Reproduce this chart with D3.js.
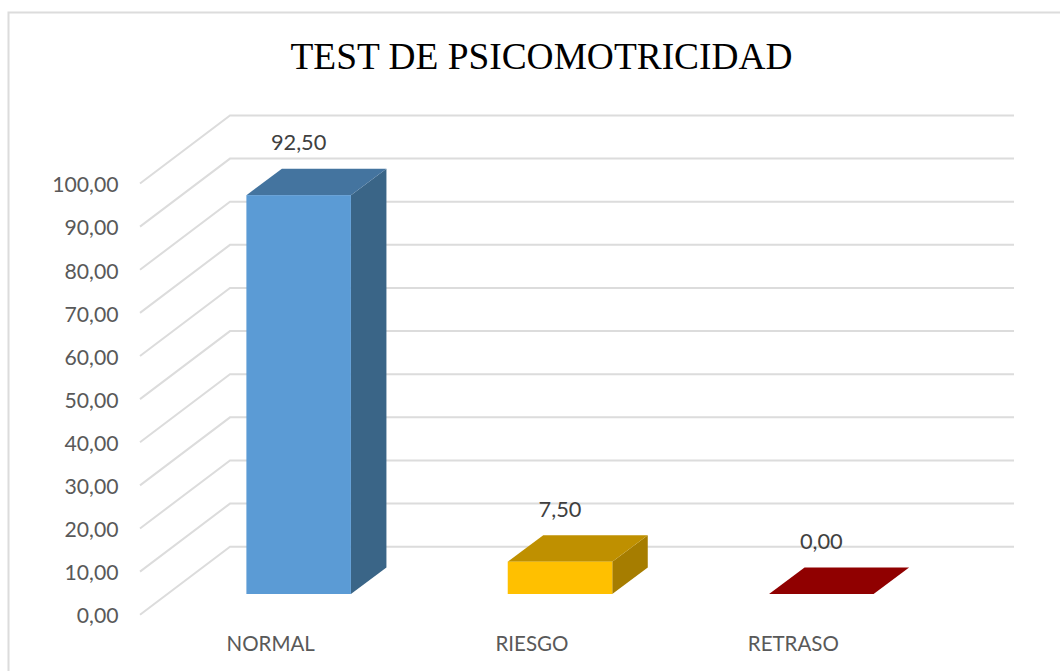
<!DOCTYPE html>
<meta charset="utf-8">
<style>
  html, body { margin: 0; padding: 0; background: #fff; }
</style>

<!-- Load d3.js -->
<script src="https://d3js.org/d3.v7.min.js"></script>

<!-- Create a div where the graph will take place -->
<div id="my_dataviz"></div>

<script>

// data
const chartTitle = "TEST DE PSICOMOTRICIDAD";
const categories = ["NORMAL", "RIESGO", "RETRASO"];
const values = [92.5, 7.5, 0];
const yTicks = [0, 10, 20, 30, 40, 50, 60, 70, 80, 90, 100];
const frontColors = ["#5b9bd5", "#ffc000", "#900000"];
const topColors = ["#44749f", "#bf9000", "#900000"];
const sideColors = ["#3a6587", "#a67d00", "#900000"];

const width = 1060, height = 671;

// front plane of the plot, and how far the 3d floor goes back
const plot = {left: 140, right: 924, top: 183.5, bottom: 614.7};
const depth = {x: 90, y: -68};
const barShift = {x: 28, y: -20.7};   // bars stand in the middle of the floor
const barDepth = {x: 35.5, y: -26.4};

const svg = d3.select("#my_dataviz")
  .append("svg")
    .attr("width", width)
    .attr("height", height)
    .style("display", "block");

// chart frame, runs off the picture on the right and at the bottom
svg.append("path")
  .attr("d", "M8.5," + height + "V12.5H" + width)
  .attr("fill", "none")
  .attr("stroke", "#dcdcdc")
  .attr("stroke-width", 2);

svg.append("text")
  .attr("x", 541.5)
  .attr("y", 69)
  .attr("text-anchor", "middle")
  .style("font-family", "'Liberation Serif', serif")
  .style("font-size", "37.4px")
  .attr("fill", "#000")
  .text(chartTitle);

const x = d3.scaleBand()
  .domain(categories)
  .range([plot.left, plot.right])
  .paddingInner(0.6)
  .paddingOuter(0.3);

const y = d3.scaleLinear()
  .domain([0, 100])
  .range([plot.bottom, plot.top]);

// gridlines: slanted part on the side wall, then flat along the back wall
svg.append("g")
  .selectAll("path")
  .data(yTicks)
  .join("path")
    .attr("d", d => "M" + plot.left + "," + y(d)
      + "L" + (plot.left + depth.x) + "," + (y(d) + depth.y)
      + "H" + (plot.right + depth.x))
    .attr("fill", "none")
    .attr("stroke", "#dcdcdc")
    .attr("stroke-width", 2);

// Y axis, only the labels show
const yAxis = svg.append("g")
  .attr("transform", "translate(118.5,1.5)")
  .call(d3.axisLeft(y)
    .tickValues(yTicks)
    .tickSize(0)
    .tickPadding(0)
    .tickFormat(d => d3.format(".2f")(d).replace(".", ",")));
yAxis.select(".domain").remove();
yAxis.selectAll("text")
  .style("font-family", "Lato, sans-serif")
  .style("font-size", "21.2px")
  .attr("fill", "#595959");

// X axis labels
const xAxis = svg.append("g")
  .attr("transform", "translate(0,633)")
  .call(d3.axisBottom(x).tickSize(0).tickPadding(0));
xAxis.select(".domain").remove();
xAxis.selectAll("text")
  .attr("dy", "0.9em")
  .style("font-family", "Lato, sans-serif")
  .style("font-size", "20.5px")
  .attr("fill", "#595959");

// Bars, three faces each
const bars = svg.append("g")
  .selectAll("g")
  .data(categories.map((c, i) => ({cat: c, val: values[i], i: i})))
  .join("g")
    .attr("transform", "translate(" + barShift.x + "," + barShift.y + ")");

function poly(pts) {
  return "M" + pts.map(p => p.join(",")).join("L") + "Z";
}

bars.append("path")
  .attr("fill", d => sideColors[d.i])
  .attr("d", d => {
    const x1 = x(d.cat) + x.bandwidth();
    return poly([[x1, y(d.val)], [x1 + barDepth.x, y(d.val) + barDepth.y],
      [x1 + barDepth.x, y(0) + barDepth.y], [x1, y(0)]]);
  });

bars.append("path")
  .attr("fill", d => topColors[d.i])
  .attr("d", d => {
    const x0 = x(d.cat), x1 = x0 + x.bandwidth();
    return poly([[x0, y(d.val)], [x0 + barDepth.x, y(d.val) + barDepth.y],
      [x1 + barDepth.x, y(d.val) + barDepth.y], [x1, y(d.val)]]);
  });

bars.append("rect")
  .attr("fill", d => frontColors[d.i])
  .attr("x", d => x(d.cat))
  .attr("y", d => y(d.val))
  .attr("width", x.bandwidth())
  .attr("height", d => y(0) - y(d.val));

// value labels above the back edge of each bar
bars.append("text")
  .attr("x", d => x(d.cat) + x.bandwidth() / 2)
  .attr("y", d => y(d.val) + barDepth.y - 18.5)
  .attr("text-anchor", "middle")
  .style("font-family", "Lato, sans-serif")
  .style("font-size", "21.8px")
  .attr("fill", "#404040")
  .text(d => d3.format(".2f")(d.val).replace(".", ","));

</script>
